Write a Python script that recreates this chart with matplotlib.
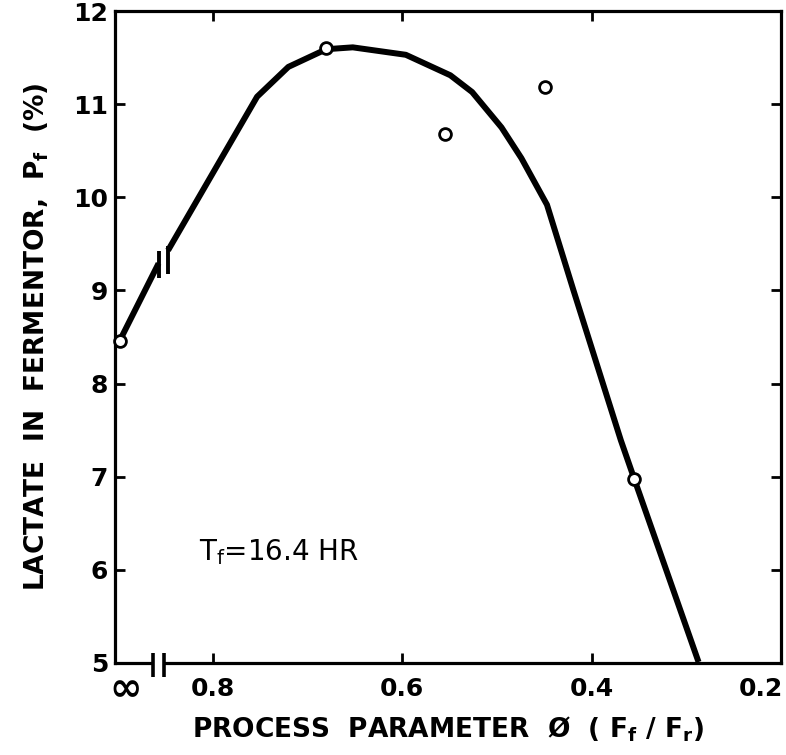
import matplotlib
matplotlib.use('Agg')
import matplotlib.pyplot as plt
import matplotlib.transforms as mtransforms

# Fitted curve, right of the axis break (phi, lactate %)
curve_phi = [0.847, 0.798, 0.753, 0.720, 0.680, 0.652, 0.596, 0.549, 0.526,
             0.495, 0.474, 0.447, 0.419, 0.369, 0.355, 0.287]
curve_lac = [9.43, 10.29, 11.08, 11.40, 11.59, 11.61, 11.53, 11.31, 11.13,
             10.75, 10.42, 9.92, 9.00, 7.39, 6.98, 5.01]

# Short piece from phi = infinity up to the break
inf_phi = [0.898, 0.857]
inf_lac = [8.46, 9.29]

# Measured points
meas_phi = [0.898, 0.680, 0.555, 0.449, 0.355]
meas_lac = [8.46, 11.60, 10.68, 11.18, 6.98]

x_ticks = [0.8, 0.6, 0.4, 0.2]
x_ticklabels = ['0.8', '0.6', '0.4', '0.2']
y_ticks = [5, 6, 7, 8, 9, 10, 11, 12]

plt.rcParams['font.family'] = ['DejaVu Sans']
plt.rcParams['font.weight'] = 'bold'
plt.rcParams['axes.labelweight'] = 'bold'

fig = plt.figure(figsize=(7.86, 7.55), dpi=100)
ax = fig.add_axes([0.1463, 0.1219, 0.8473, 0.8635])

ax.plot(curve_phi, curve_lac, color='black', lw=4.3,
        solid_capstyle='butt', solid_joinstyle='round')
ax.plot(inf_phi, inf_lac, color='black', lw=4.3, solid_capstyle='butt')
ax.plot(meas_phi, meas_lac, 'o', ms=8.5, mfc='white', mec='black',
        mew=2.0, clip_on=False, zorder=5)

# break marks on the curve
ax.vlines([inf_phi[1], curve_phi[0]], [9.13, 9.18], [9.42, 9.48],
          color='black', lw=2.8)

ax.set_xlim(0.903, 0.2)
ax.set_ylim(5, 12)
ax.set_xticks(x_ticks)
ax.set_xticklabels(x_ticklabels)
ax.set_yticks(y_ticks)

for s in ax.spines.values():
    s.set_linewidth(2.3)
ax.tick_params(direction='in', length=7, width=2.0, labelsize=18,
               top=True, right=True)
ax.tick_params(axis='y', pad=5)
ax.tick_params(axis='x', pad=10)

# last x label sits inside the frame edge
last = ax.get_xticklabels()[-1]
last.set_horizontalalignment('right')
last.set_x(0.2)
offset = mtransforms.ScaledTranslation(0.02, 0, fig.dpi_scale_trans)
last.set_transform(last.get_transform() + offset)

# axis break on the bottom spine
trans = mtransforms.blended_transform_factory(ax.transData, ax.transAxes)
ax.fill_between([0.862, 0.852], -0.01, 0.01, color='white',
                transform=trans, clip_on=False, zorder=6)
ax.vlines([0.863, 0.851], -0.022, 0.016, color='black', lw=2.6,
          transform=trans, clip_on=False, zorder=7)
ax.text(0.893, -0.008, r'$\mathbf{\infty}$', transform=trans, ha='center',
        va='top', fontsize=28)

ax.text(0.814, 6.19, r'T$_\mathregular{f}$=16.4 HR', fontsize=20,
        fontweight='normal', va='center')

ax.set_ylabel(r'LACTATE  IN  FERMENTOR,  P$_\mathregular{f}$  (%)',
              fontsize=19, labelpad=16)
ax.set_xlabel(r'PROCESS  PARAMETER  Ø  ( F$_\mathregular{f}$ / F$_\mathregular{r}$)',
              fontsize=19, labelpad=10)

fig.savefig('out.png', dpi=100)
